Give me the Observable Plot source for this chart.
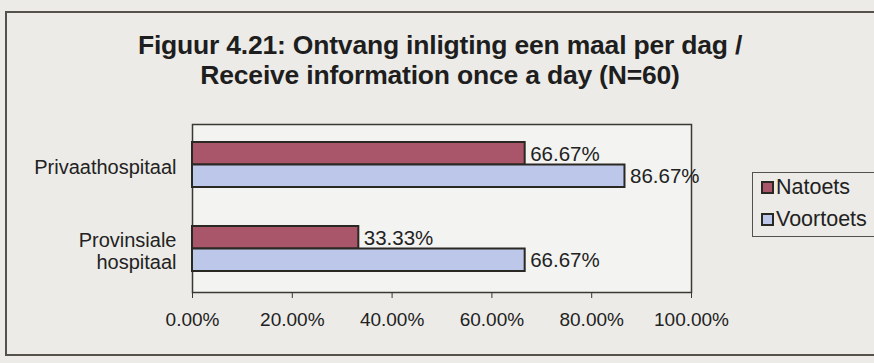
<!DOCTYPE html>
<html>
<head>
<meta charset="utf-8">
<script src="https://cdn.jsdelivr.net/npm/d3@7"></script>
<script src="https://cdn.jsdelivr.net/npm/@observablehq/plot@0.6"></script>
<style>
  html, body { margin: 0; padding: 0; background: #ecebe7; }
  #wrap { position: relative; width: 874px; height: 363px; overflow: hidden; font-family: "Liberation Sans", Arial, sans-serif; color: #222; }
  #outer { position: absolute; left: 5px; top: 11px; width: 880px; height: 345px; border: 2px solid #55524c; box-sizing: border-box; }
  #title { position: absolute; left: 0; width: 880px; top: 30px; text-align: center; font-weight: bold; font-size: 26.5px; line-height: 30px; color: #1e1e1e; letter-spacing: -0.2px; }
  #legend { position: absolute; left: 752px; top: 172px; width: 130px; height: 65px; border: 1.5px solid #55524c; box-sizing: border-box; font-size: 21.5px; }
  .item { position: absolute; left: 8px; display: flex; align-items: center; }
  .sw { width: 9px; height: 9px; border: 2px solid #2a2822; margin-right: 2px; }
  #chart { position: absolute; left: 0; top: 0; }
  #chart svg { background: transparent !important; }
</style>
</head>
<body>
<div id="wrap">
  <div id="outer"></div>
  <div id="title">Figuur 4.21: Ontvang inligting een maal per dag /<br>Receive information once a day (N=60)</div>
  <div id="chart"></div>
  <div id="legend"></div>
</div>
<script>
const categories = ["Privaathospitaal", "Provinsiale hospitaal"];
const categoryLabels = ["Privaathospitaal", "Provinsiale\nhospitaal"];
const seriesNames = ["Natoets", "Voortoets"];
const natoets = [66.67, 33.33];
const voortoets = [86.67, 66.67];
const xTicks = [0, 20, 40, 60, 80, 100];
const colors = ["#a9566a", "#bcc7ea"];

const natData = categories.map((c, i) => ({category: c, series: seriesNames[0], value: natoets[i]}));
const voorData = categories.map((c, i) => ({category: c, series: seriesNames[1], value: voortoets[i]}));
const fmt = d => d.toFixed(2) + "%";
const labelOf = c => categoryLabels[categories.indexOf(c)];

const chart = Plot.plot({
  width: 874,
  height: 363,
  marginLeft: 192,
  marginRight: 183,
  marginTop: 124,
  marginBottom: 71,
  style: {background: "transparent", fontFamily: "'Liberation Sans', Arial, sans-serif", fontSize: "19px", color: "#222"},
  x: {domain: [0, 100], ticks: xTicks, tickFormat: fmt, tickSize: 6, tickPadding: 14, label: null},
  y: {domain: categories, padding: 0, tickFormat: labelOf, tickSize: 0, tickPadding: 16, label: null},
  color: {domain: seriesNames, range: colors},
  marks: [
    Plot.frame({fill: "#f3f3f1", stroke: "#3a3833", strokeWidth: 1.5}),
    Plot.barX(natData, {x: "value", y: "category", fill: "series", stroke: "#2a2822", strokeWidth: 2, insetTop: 18, insetBottom: 43.5}),
    Plot.barX(voorData, {x: "value", y: "category", fill: "series", stroke: "#2a2822", strokeWidth: 2, insetTop: 40.5, insetBottom: 21}),
    Plot.text(natData, {x: "value", y: "category", text: d => fmt(d.value), textAnchor: "start", dx: 5, dy: -12, fill: "#222", fontSize: 20.5}),
    Plot.text(voorData, {x: "value", y: "category", text: d => fmt(d.value), textAnchor: "start", dx: 5, dy: 10, fill: "#222", fontSize: 20.5}),
    Plot.axisX({ticks: xTicks, tickFormat: fmt, tickSize: 6, tickPadding: 14, stroke: "#3a3833"}),
    Plot.axisY({tickFormat: labelOf, tickSize: 0, tickPadding: 16, lineHeight: 1.1, fontSize: 20})
  ]
});
document.getElementById("chart").appendChild(chart);

const legend = document.getElementById("legend");
seriesNames.forEach((s, i) => {
  const item = document.createElement("div");
  item.className = "item";
  item.style.top = (i === 0 ? 2 : 34) + "px";
  const sw = document.createElement("span");
  sw.className = "sw";
  sw.style.background = colors[i];
  item.appendChild(sw);
  item.appendChild(document.createTextNode(s));
  legend.appendChild(item);
});
</script>
</body>
</html>
